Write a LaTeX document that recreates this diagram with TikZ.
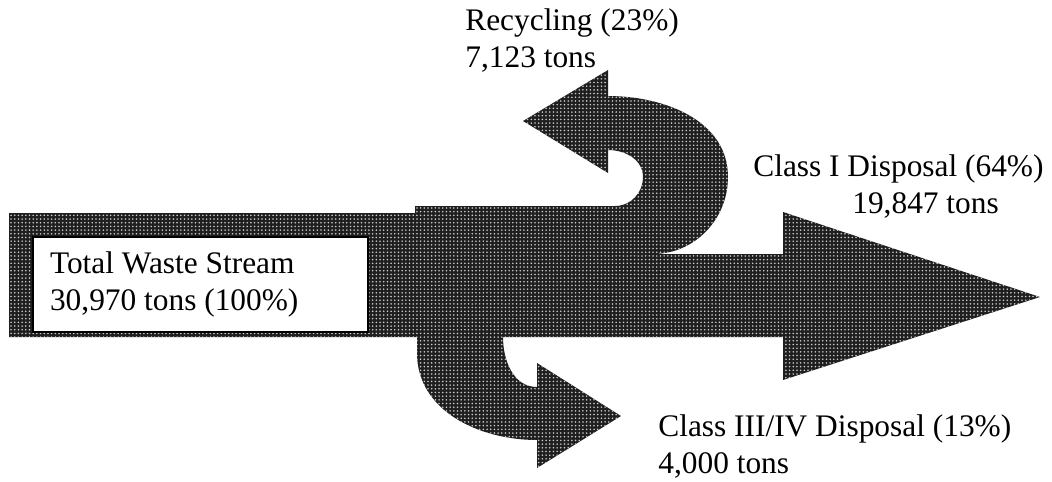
\documentclass[tikz,border=0pt]{standalone}
\usepackage{fontspec}
\setmainfont{Liberation Serif}
\usetikzlibrary{patterns.meta}

\tikzdeclarepattern{
  name=wastedots,
  type=uncolored,
  bounding box={(-1.05pt,-1.05pt) and (1.05pt,1.05pt)},
  tile size={(2.1pt,2.1pt)},
  code={\pgfpathcircle{\pgfpointorigin}{0.5pt}\pgfusepath{fill}}
}

\tikzset{
  flow/.style={preaction={fill=black!88}, pattern=wastedots, pattern color=white!80!black},
  flowtext/.style={anchor=base west, align=left, inner sep=0pt,
    font=\fontsize{17.86pt}{21pt}\selectfont},
  totalbox/.style={draw=black, line width=0.8pt, fill=white, align=flush left,
    minimum width=6.7cm, minimum height=1.9cm, text width=6.02cm, inner xsep=0.34cm,
    font=\fontsize{17.86pt}{21pt}\selectfont}
}

\begin{document}
\begin{tikzpicture}[x=0.02cm, y=0.02cm]
        \useasboundingbox (0,0) rectangle (1052,481);

        % ===== stream with its three branches =====
        \path[flow]
            (9,268) -- (415,268) -- (415,275) -- (615,275)
            to[out=0, in=-90] (643,304)
            to[out=90, in=0] (608,331)
            -- (608,308) -- (523,360) -- (608,411) -- (608,385)
            to[out=0, in=90] (728,304)
            to[out=-90, in=0] (653,227)
            -- (783,227) -- (783,269) -- (1040,184) -- (783,101) -- (783,144)
            -- (503,144)
            to[out=-90, in=180] (537,94)
            -- (537,118) -- (621,65) -- (537,13) -- (537,41)
            to[out=180, in=-90] (417,128)
            -- (417,144) -- (9,144) -- cycle;

        % ===== labels (anchored at last baseline) =====
        \node[totalbox] (total) at (200.5,196.5) {Total Waste Stream\\30,970 tons (100\%)};
        \node[flowtext] (recycling) at (465,414) {Recycling (23\%)\\7,123 tons};
        \node[flowtext] (classone) at (753,268) {Class I Disposal (64\%)\\\hspace*{1.98cm}19,847 tons};
        \node[flowtext] (classthree) at (658,8) {Class III/IV Disposal (13\%)\\4,000 tons};
    \end{tikzpicture}
\end{document}
